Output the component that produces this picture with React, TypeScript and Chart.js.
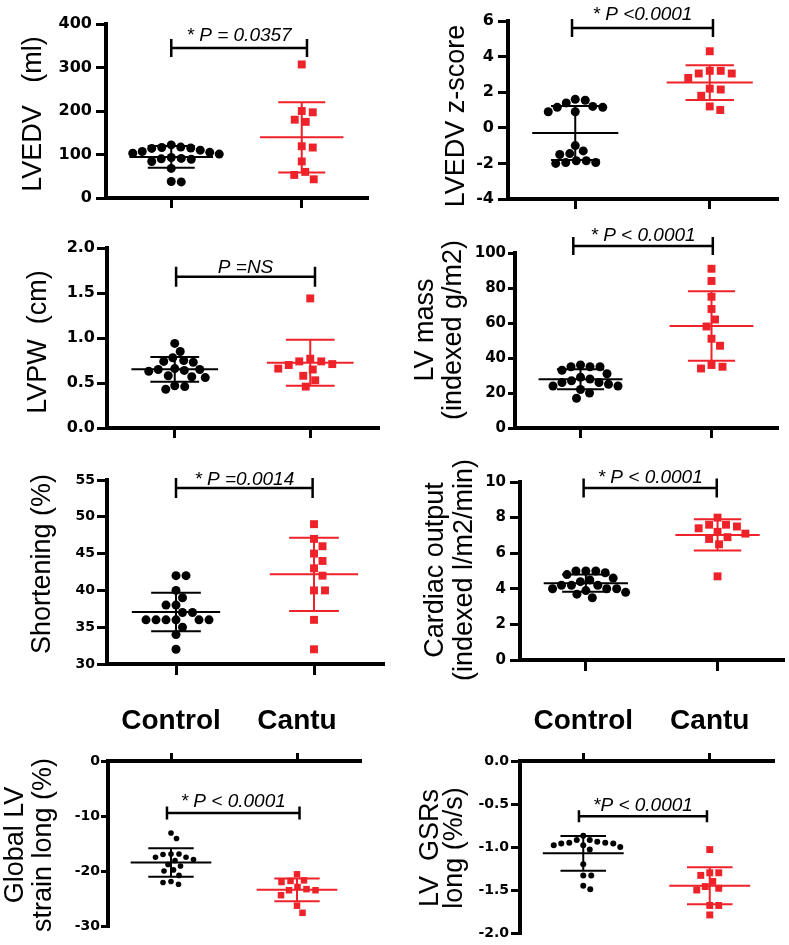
import React, { useEffect, useRef } from 'react';
import { Chart, registerables } from 'chart.js';

Chart.register(...registerables);

// ---------- data ----------
const GROUPS = ['Control', 'Cantu'];
const GROUP_POS = [1, 2];

const LVEDV_CONTROL = [122, 117, 116, 115, 114, 110, 107, 105, 103, 101, 93, 91, 90, 89, 84, 68, 38, 37];
const LVEDV_CANTU = [307, 200, 197, 180, 175, 119, 116, 84, 60, 53, 43];
const LVEDV_TICKS = [0, 100, 200, 300, 400];
const LVEDV_P = '* P = 0.0357';

const ZSCORE_CONTROL = [1.55, 1.6, 1.4, 1.2, 1.15, 1.15, 0.9, 0.9, -1.0, -1.3, -1.45, -1.5, -1.85, -1.95, -2.0, -1.95, -1.85];
const ZSCORE_CANTU = [4.3, 3.2, 3.2, 3.05, 3.05, 2.8, 2.15, 2.2, 1.8, 1.0, 1.2];
const ZSCORE_TICKS = [-4, -2, 0, 2, 4, 6];
const ZSCORE_P = '* P <0.0001';

const LVPW_CONTROL = [0.94, 0.85, 0.78, 0.75, 0.74, 0.73, 0.66, 0.65, 0.65, 0.64, 0.63, 0.58, 0.57, 0.56, 0.47, 0.46, 0.43];
const LVPW_CANTU = [1.44, 0.77, 0.74, 0.74, 0.71, 0.7, 0.66, 0.65, 0.58, 0.53, 0.46];
const LVPW_TICKS = [0, 0.5, 1.0, 1.5, 2.0];
const LVPW_P = 'P =NS';

const MASS_CONTROL = [36, 35, 35, 35, 33, 31, 29, 28, 27, 26, 26, 25, 24, 24, 22, 20, 17];
const MASS_CANTU = [91, 84, 75, 68, 62, 58, 51, 47, 36, 35, 34];
const MASS_TICKS = [0, 20, 40, 60, 80, 100];
const MASS_P = '* P < 0.0001';

const SHORT_CONTROL = [42, 42, 40, 39, 38, 38, 37, 37, 36, 36, 36, 36, 36, 36, 35, 34, 32];
const SHORT_CANTU = [49, 47, 46, 45, 44, 43, 42, 40, 40, 36, 32];
const SHORT_TICKS = [30, 35, 40, 45, 50, 55];
const SHORT_P = '* P =0.0014';

const CO_CONTROL = [5.0, 5.0, 5.0, 4.9, 4.8, 4.6, 4.5, 4.4, 4.2, 4.2, 4.2, 4.0, 4.0, 4.0, 3.9, 3.8, 3.7, 3.5];
const CO_CANTU = [8.0, 7.6, 7.6, 7.5, 7.4, 7.2, 7.1, 6.9, 6.8, 6.5, 4.7];
const CO_TICKS = [0, 2, 4, 6, 8, 10];
const CO_P = '* P < 0.0001';

const STRAIN_CONTROL = [-13.1, -14.1, -17.0, -16.9, -17.5, -17.5, -16.9, -18.1, -17.9, -18.8, -19.1, -19.8, -20.0, -20.8, -21.9, -22.1, -22.4];
const STRAIN_CANTU = [-20.6, -21.7, -21.8, -22.0, -22.9, -23.3, -23.5, -23.5, -24.4, -26.3, -27.6];
const STRAIN_TICKS = [-30, -20, -10, 0];
const STRAIN_P = '* P < 0.0001';

const GSR_CONTROL = [-0.92, -0.95, -0.96, -0.98, -1.0, -0.98, -0.96, -0.95, -0.94, -0.92, -0.87, -1.03, -1.2, -1.33, -1.33, -1.45, -1.49];
const GSR_CANTU = [-1.03, -1.3, -1.3, -1.33, -1.4, -1.46, -1.48, -1.5, -1.68, -1.68, -1.79];
const GSR_TICKS = [-2.0, -1.5, -1.0, -0.5, 0.0];
const GSR_P = '*P < 0.0001';

// ---------- styles ----------
const BLACK = '#000000';
const RED = '#ee2229';
const SANS = "'Liberation Sans', Arial, sans-serif";
const TICK_FAMILY = "'DejaVu Sans', sans-serif";
const MEAN_HALF = 0.32;
const SD_HALF = 0.18;

type PanelCfg = {
  box: [number, number, number, number];
  plot: [number, number, number, number];
  ticks: number[];
  decimals: number;
  tickFont: number;
  tickLen: number;
  tickPad: number;
  xTickLen: number;
  title: string[];
  titleX: number[];
  titleY: number;
  control: number[];
  cantu: number[];
  pText: string;
  bracketY: number;
  bracketX: [number, number];
  bracketH: number;
  pGap: number;
  xTop: boolean;
  circleR: number;
  squareR: number;
  circleGap: number;
  squareGap: number;
};

const TOP_PTS = { circleR: 4.5, squareR: 5.6, circleGap: 9.6, squareGap: 11 };

const PANELS: PanelCfg[] = [
  {
    box: [0, 0, 390, 215], plot: [106, 24, 367, 198],
    ticks: LVEDV_TICKS, decimals: 0, tickFont: 16, tickLen: 10, tickPad: 4, xTickLen: 10,
    title: ['LVEDV   (ml)'], titleX: [34], titleY: 114,
    control: LVEDV_CONTROL, cantu: LVEDV_CANTU,
    pText: LVEDV_P, bracketY: 345, bracketX: [1.0, 2.04], bracketH: 9, pGap: 7, xTop: false, ...TOP_PTS,
  },
  {
    box: [390, 0, 399, 215], plot: [508, 21, 777, 199],
    ticks: ZSCORE_TICKS, decimals: 0, tickFont: 16, tickLen: 10, tickPad: 4, xTickLen: 10,
    title: ['LVEDV z-score'], titleX: [456.5], titleY: 116,
    control: ZSCORE_CONTROL, cantu: ZSCORE_CANTU,
    pText: ZSCORE_P, bracketY: 5.6, bracketX: [0.976, 2.024], bracketH: 9, pGap: 8, xTop: false, ...TOP_PTS,
  },
  {
    box: [0, 215, 390, 230], plot: [107, 248, 378, 428],
    ticks: LVPW_TICKS, decimals: 1, tickFont: 16, tickLen: 10, tickPad: 2, xTickLen: 10,
    title: ['LVPW  (cm)'], titleX: [39], titleY: 342,
    control: LVPW_CONTROL, cantu: LVPW_CANTU,
    pText: LVPW_P, bracketY: 1.68, bracketX: [1.01, 2.035], bracketH: 10, pGap: 4, xTop: false, ...TOP_PTS,
  },
  {
    box: [390, 215, 399, 230], plot: [515, 253, 777, 428],
    ticks: MASS_TICKS, decimals: 0, tickFont: 15, tickLen: 7, tickPad: 2, xTickLen: 10,
    title: ['LV mass', '(indexed g/m2)'], titleX: [425.5, 454], titleY: 330,
    control: MASS_CONTROL, cantu: MASS_CANTU,
    pText: MASS_P, bracketY: 104, bracketX: [0.945, 2.01], bracketH: 9, pGap: 5, xTop: false, ...TOP_PTS,
  },
  {
    box: [0, 445, 390, 240], plot: [107, 480, 383, 664],
    ticks: SHORT_TICKS, decimals: 0, tickFont: 14, tickLen: 10, tickPad: 2, xTickLen: 11,
    title: ['Shortening (%)'], titleX: [42.5], titleY: 564,
    control: SHORT_CONTROL, cantu: SHORT_CANTU,
    pText: SHORT_P, bracketY: 53.9, bracketX: [1.0, 1.99], bracketH: 10, pGap: 3, xTop: false, ...TOP_PTS,
  },
  {
    box: [390, 445, 399, 240], plot: [520, 482, 785, 660],
    ticks: CO_TICKS, decimals: 0, tickFont: 15, tickLen: 10, tickPad: 4, xTickLen: 11,
    title: ['Cardiac output', '(indexed l/m2/min)'], titleX: [435.5, 465], titleY: 570,
    control: CO_CONTROL, cantu: CO_CANTU,
    pText: CO_P, bracketY: 9.66, bracketX: [0.983, 1.994], bracketH: 9.5, pGap: 5, xTop: false, ...TOP_PTS,
  },
  {
    box: [0, 685, 390, 260], plot: [108, 761, 360, 926],
    ticks: STRAIN_TICKS, decimals: 0, tickFont: 14, tickLen: 7, tickPad: 1, xTickLen: 8,
    title: ['Global LV', 'strain long (%)'], titleX: [16, 43.5], titleY: 845,
    control: STRAIN_CONTROL, cantu: STRAIN_CANTU,
    pText: STRAIN_P, bracketY: -9.45, bracketX: [0.968, 2.02], bracketH: 6.5, pGap: 6, xTop: true,
    circleR: 2.8, squareR: 4.6, circleGap: 7.6, squareGap: 9,
  },
  {
    box: [390, 685, 399, 260], plot: [520, 761, 773, 933],
    ticks: GSR_TICKS, decimals: 1, tickFont: 14, tickLen: 9, tickPad: 2, xTickLen: 8,
    title: ['LV  GSRs', 'long (%/s)'], titleX: [430.5, 455], titleY: 848,
    control: GSR_CONTROL, cantu: GSR_CANTU,
    pText: GSR_P, bracketY: -0.643, bracketX: [0.966, 1.978], bracketH: 6, pGap: 5, xTop: true,
    circleR: 3, squareR: 4.9, circleGap: 7.6, squareGap: 9,
  },
];

// beeswarm-style horizontal spread (in px, converted to x units)
function swarm(values: number[], pxPerY: number, pxPerX: number, gap: number): number[] {
  const order = values.map((_, i) => i).sort((a, b) => values[b] - values[a]);
  const placed: { x: number; y: number }[] = [];
  const offs = new Array(values.length).fill(0);
  for (const i of order) {
    const y = values[i] * pxPerY;
    let best = 0;
    for (let k = 0; k < 600; k++) {
      const step = Math.ceil(k / 2) * 0.5;
      const cand = k === 0 ? 0 : k % 2 === 1 ? step : -step;
      if (placed.every((p) => Math.hypot(p.x - cand, p.y - y) >= gap)) {
        best = cand;
        break;
      }
    }
    placed.push({ x: best, y });
    offs[i] = best / pxPerX;
  }
  return offs;
}

function Panel({ cfg }: { cfg: PanelCfg }) {
  const ref = useRef<HTMLCanvasElement>(null);
  const [bl, bt, bw, bh] = cfg.box;

  useEffect(() => {
    const canvas = ref.current;
    if (!canvas) return;
    const [ax, yTop, xr, yBot] = cfg.plot;
    const yMin = Math.min(...cfg.ticks);
    const yMax = Math.max(...cfg.ticks);
    const pyu = (yBot - yTop) / (yMax - yMin);
    const pxu = (xr - ax) / 2;
    const groups = [cfg.control, cfg.cantu];
    const colors = [BLACK, RED];
    const offs = [
      swarm(cfg.control, pyu, pxu, cfg.circleGap),
      swarm(cfg.cantu, pyu, pxu, cfg.squareGap),
    ];

    const datasets = groups.map((vals, g) => ({
      label: GROUPS[g],
      data: vals.map((v, i) => ({ x: GROUP_POS[g] + offs[g][i], y: v })),
      pointStyle: g === 0 ? 'circle' : 'rect',
      pointRadius: g === 0 ? cfg.circleR : cfg.squareR,
      pointBackgroundColor: colors[g],
      pointBorderColor: colors[g],
      pointBorderWidth: 0,
      showLine: false,
      clip: false as any,
    }));

    const deco = {
      id: 'deco',
      afterDatasetsDraw(chart: any) {
        const { ctx } = chart;
        const xs = chart.scales.x;
        const ys = chart.scales.y;
        ctx.save();
        groups.forEach((vals, g) => {
          const n = vals.length;
          const mean = vals.reduce((a, b) => a + b, 0) / n;
          const sd = Math.sqrt(vals.reduce((a, b) => a + (b - mean) * (b - mean), 0) / (n - 1));
          const cx = GROUP_POS[g];
          const ym = ys.getPixelForValue(mean);
          const yu = ys.getPixelForValue(mean + sd);
          const yl = ys.getPixelForValue(mean - sd);
          ctx.strokeStyle = colors[g];
          ctx.lineWidth = 2;
          ctx.beginPath();
          ctx.moveTo(xs.getPixelForValue(cx - MEAN_HALF), ym);
          ctx.lineTo(xs.getPixelForValue(cx + MEAN_HALF), ym);
          ctx.moveTo(xs.getPixelForValue(cx), yu);
          ctx.lineTo(xs.getPixelForValue(cx), yl);
          ctx.moveTo(xs.getPixelForValue(cx - SD_HALF), yu);
          ctx.lineTo(xs.getPixelForValue(cx + SD_HALF), yu);
          ctx.moveTo(xs.getPixelForValue(cx - SD_HALF), yl);
          ctx.lineTo(xs.getPixelForValue(cx + SD_HALF), yl);
          ctx.stroke();
        });
        ctx.restore();
      },
      afterDraw(chart: any) {
        const { ctx } = chart;
        const xs = chart.scales.x;
        const ys = chart.scales.y;
        ctx.save();
        const by = ys.getPixelForValue(cfg.bracketY);
        const bx0 = xs.getPixelForValue(cfg.bracketX[0]);
        const bx1 = xs.getPixelForValue(cfg.bracketX[1]);
        ctx.strokeStyle = BLACK;
        ctx.lineWidth = 2.5;
        ctx.beginPath();
        ctx.moveTo(bx0, by);
        ctx.lineTo(bx1, by);
        ctx.moveTo(bx0, by - cfg.bracketH);
        ctx.lineTo(bx0, by + cfg.bracketH);
        ctx.moveTo(bx1, by - cfg.bracketH);
        ctx.lineTo(bx1, by + cfg.bracketH);
        ctx.stroke();
        ctx.fillStyle = BLACK;
        ctx.font = `italic 19px ${SANS}`;
        ctx.textAlign = 'center';
        ctx.textBaseline = 'alphabetic';
        ctx.fillText(cfg.pText, (bx0 + bx1) / 2, by - cfg.pGap);
        ctx.font = `27px ${SANS}`;
        ctx.textBaseline = 'middle';
        cfg.title.forEach((line, i) => {
          ctx.save();
          ctx.translate(cfg.titleX[i] - bl, cfg.titleY - bt);
          ctx.rotate(-Math.PI / 2);
          ctx.fillText(line, 0, 0);
          ctx.restore();
        });
        ctx.restore();
      },
    };

    const chart = new Chart(canvas, {
      type: 'scatter',
      data: { datasets: datasets as any },
      options: {
        animation: false,
        responsive: false,
        maintainAspectRatio: false,
        devicePixelRatio: 1,
        events: [],
        layout: {
          padding: {
            left: 0,
            right: bl + bw - xr,
            top: cfg.xTop ? 0 : yTop - bt,
            bottom: cfg.xTop ? bt + bh - yBot : 0,
          },
        },
        plugins: {
          legend: { display: false },
          tooltip: { enabled: false },
          title: { display: false },
        },
        scales: {
          x: {
            type: 'linear',
            position: cfg.xTop ? 'top' : 'bottom',
            min: 0.5,
            max: 2.5,
            afterBuildTicks: (s: any) => {
              s.ticks = GROUP_POS.map((value) => ({ value }));
            },
            afterFit: (s: any) => {
              s.height = cfg.xTop ? yTop - bt : bt + bh - yBot;
            },
            ticks: {
              display: cfg.xTop,
              autoSkip: false,
              maxRotation: 0,
              padding: 15,
              color: BLACK,
              font: { family: SANS, weight: 'bold', size: 28, lineHeight: 1.2 },
              callback: (v: any) => GROUPS[Math.round(Number(v)) - 1] ?? '',
            },
            grid: {
              display: true,
              drawOnChartArea: false,
              drawTicks: true,
              tickLength: cfg.xTickLen,
              color: BLACK,
              lineWidth: 3,
            },
            border: { display: true, color: BLACK, width: 4 },
          },
          y: {
            type: 'linear',
            min: yMin,
            max: yMax,
            afterBuildTicks: (s: any) => {
              s.ticks = cfg.ticks.map((value) => ({ value }));
            },
            afterFit: (s: any) => {
              s.width = ax - bl;
            },
            ticks: {
              padding: cfg.tickPad,
              color: BLACK,
              autoSkip: false,
              font: { family: TICK_FAMILY, weight: 'bold', size: cfg.tickFont },
              callback: (v: any) => Number(v).toFixed(cfg.decimals),
            },
            grid: {
              display: true,
              drawOnChartArea: false,
              drawTicks: true,
              tickLength: cfg.tickLen,
              color: BLACK,
              lineWidth: 3,
            },
            border: { display: true, color: BLACK, width: 4 },
          },
        },
      } as any,
      plugins: [deco],
    });
    return () => chart.destroy();
  }, [cfg]);

  return (
    <canvas
      ref={ref}
      width={bw}
      height={bh}
      style={{ position: 'absolute', left: bl, top: bt, width: bw, height: bh }}
    />
  );
}

export default function App() {
  return (
    <div style={{ position: 'absolute', left: 0, top: 0, width: 789, height: 945, background: '#fff', overflow: 'hidden' }}>
      {PANELS.map((p, i) => (
        <Panel key={i} cfg={p} />
      ))}
    </div>
  );
}
